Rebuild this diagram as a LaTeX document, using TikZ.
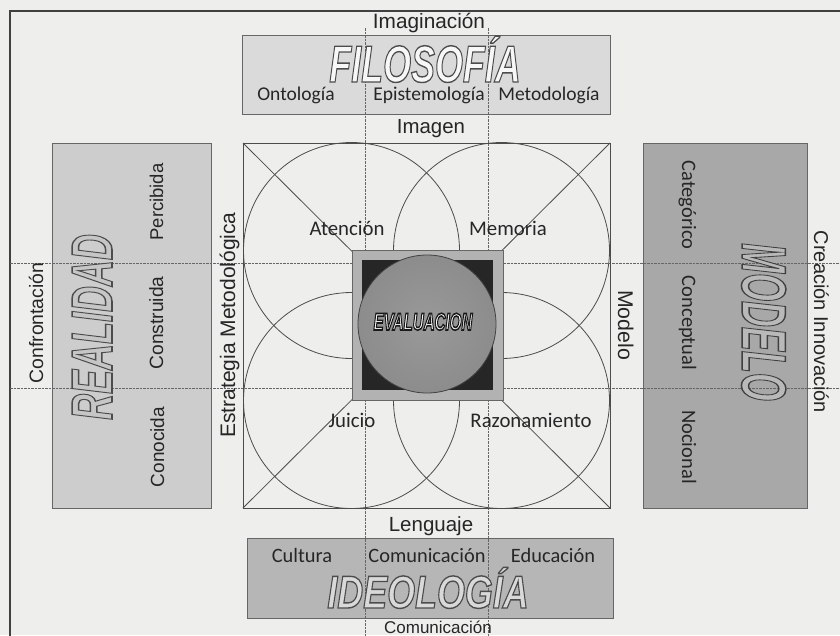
\documentclass[tikz,border=0pt]{standalone}
\usepackage{fontspec}
\setmainfont{Liberation Sans}
\newfontfamily\calfont{Carlito}
\usepackage{graphicx}
% outlined text: #1 stroke width, #2 stroke gray level, #3 fill colour, #4 text
\newcommand\outl[4]{{\color{#3}\special{pdf:literal direct 2 Tr #1 w #2 G}#4\special{pdf:literal direct 0 Tr}}}
\definecolor{paper}{HTML}{EEEEEC}
\definecolor{filc}{HTML}{DADADA}
\definecolor{realc}{HTML}{CDCDCD}
\definecolor{modc}{HTML}{A8A8A8}
\definecolor{ideoc}{HTML}{B6B6B6}
\pgfdeclareradialshading{sph}{\pgfpoint{0bp}{0bp}}{color(0bp)=(gray!80); color(25bp)=(gray!90); color(42bp)=(gray!80!black); color(50bp)=(black!80)}
\begin{document}
\begin{tikzpicture}[x=1pt,y=-1pt,
  txt/.style={inner sep=0pt, text=black!85},
  ar/.style={txt, font=\fontsize{#1}{#1}\selectfont},
  ca/.style={txt, font=\calfont\fontsize{#1}{#1}\selectfont},
  guide/.style={draw=black!60, line width=0.5pt, dash pattern=on 2.5pt off 1pt},
  geo/.style={draw=black!70, line width=0.8pt},
  panel/.style={draw=black!60, line width=0.8pt}]
\fill[paper] (0,0) rectangle (840,635);
\useasboundingbox (0,0) rectangle (840,635);
% outer frame
\draw[line width=1.6pt, black!75] (10,640) -- (10,11) -- (845,11);
% panels
\draw[panel, fill=filc] (242,35) rectangle (610,114);
\draw[panel, fill=realc] (52,143) rectangle (211,508);
\draw[panel, fill=modc] (643,143) rectangle (807,508);
\draw[panel, fill=ideoc] (247,538) rectangle (613,618);
% guide lines
\draw[guide] (365,28) -- (365,640);
\draw[guide] (488,28) -- (488,640);
\draw[guide] (10,263) -- (845,263);
\draw[guide] (10,388) -- (845,388);
% square, diagonals, circles
\draw[geo] (243,143) rectangle (610,508);
\draw[geo] (243,143) -- (610,508);
\draw[geo] (610,143) -- (243,508);
\draw[geo] (351.5,250.5) circle (108pt);
\draw[geo] (501.5,250.5) circle (108pt);
\draw[geo] (351.5,400.5) circle (108pt);
\draw[geo] (501.5,400.5) circle (108pt);
% centre
\draw[fill=gray!60, draw=black!60] (352,250) rectangle (503,400);
\fill[black!85] (362,260) rectangle (493,390);
\shade[shading=sph] (427,324) circle (69pt);
\draw[black!75, line width=0.8pt] (427,324) circle (69pt);
\node[txt, anchor=base] (eval) at (423,330) {\scalebox{0.63}[1]{\outl{1.6}{0.1}{white}{\fontsize{24}{24}\selectfont\bfseries\itshape EVALUACION}}};
% top
\node[ar=20.8, anchor=base] (imaginacion) at (429,28) {Imaginación};
\node[txt, anchor=base] (filo) at (425,82) {\scalebox{0.69}[1]{\outl{1.4}{0.3}{white!94!gray}{\fontsize{52}{52}\selectfont\bfseries\itshape FILOSOFÍA}}};
\node[ca=19.5, anchor=base] (onto) at (296,100) {Ontología};
\node[ca=19.5, anchor=base] (episte) at (429,100) {Epistemología};
\node[ca=19.5, anchor=base] (metodo) at (549,100) {Metodología};
\node[ar=20.4, anchor=base] (imagen) at (431,133) {Imagen};
% circles labels
\node[ca=20.8, anchor=base] (atencion) at (347,235) {Atención};
\node[ca=20.8, anchor=base] (memoria) at (508,235) {Memoria};
\node[ca=20.8, anchor=base] (juicio) at (352,427) {Juicio};
\node[ca=20.8, anchor=base] (razon) at (531,427) {Razonamiento};
% bottom
\node[ar=20.5, anchor=base] (lenguaje) at (431,531) {Lenguaje};
\node[ca=20.4, anchor=base] (cultura) at (302,562) {Cultura};
\node[ca=20.4, anchor=base] (comun1) at (427,562) {Comunicación};
\node[ca=20.4, anchor=base] (educ) at (553,562) {Educación};
\node[txt, anchor=base] (ideo) at (428,608) {\scalebox{0.78}[1]{\outl{1.4}{0.3}{gray!30}{\fontsize{46}{46}\selectfont\bfseries\itshape IDEOLOGÍA}}};
\node[ar=17, anchor=base] (comun2) at (438,633) {Comunicación};
% left
\node[ar=19.4, anchor=base, rotate=90] (confr) at (43,323) {Confrontación};
\node[txt, anchor=base, rotate=90] (real) at (112,327) {\scalebox{0.62}[1]{\outl{1.5}{0.3}{gray!45}{\fontsize{58}{58}\selectfont\bfseries\itshape REALIDAD}}};
\node[ar=18.5, anchor=base, rotate=90] (percib) at (163,202) {Percibida};
\node[ar=19.2, anchor=base, rotate=90] (constr) at (163,323) {Construida};
\node[ar=19, anchor=base, rotate=90] (conoc) at (164,447) {Conocida};
\node[ar=21, anchor=base, rotate=90] (estrat) at (235,325) {Estrategia Metodológica};
% right
\node[ar=21.3, anchor=base, rotate=-90] (modelo) at (618,325) {Modelo};
\node[ca=20.5, anchor=base, rotate=-90] (categ) at (682,205) {Categórico};
\node[ca=20.5, anchor=base, rotate=-90] (concep) at (682,323) {Conceptual};
\node[ca=20.5, anchor=base, rotate=-90] (nocion) at (682,447) {Nocional};
\node[txt, anchor=base, rotate=-90] (model) at (742,322) {\scalebox{0.57}[1]{\outl{1.5}{0.25}{gray!55}{\fontsize{63}{63}\selectfont\bfseries\itshape MODELO}}};
\node[ar=20, anchor=base, rotate=-90] (creac) at (814,322) {Creación Innovación};
\end{tikzpicture}
\end{document}
